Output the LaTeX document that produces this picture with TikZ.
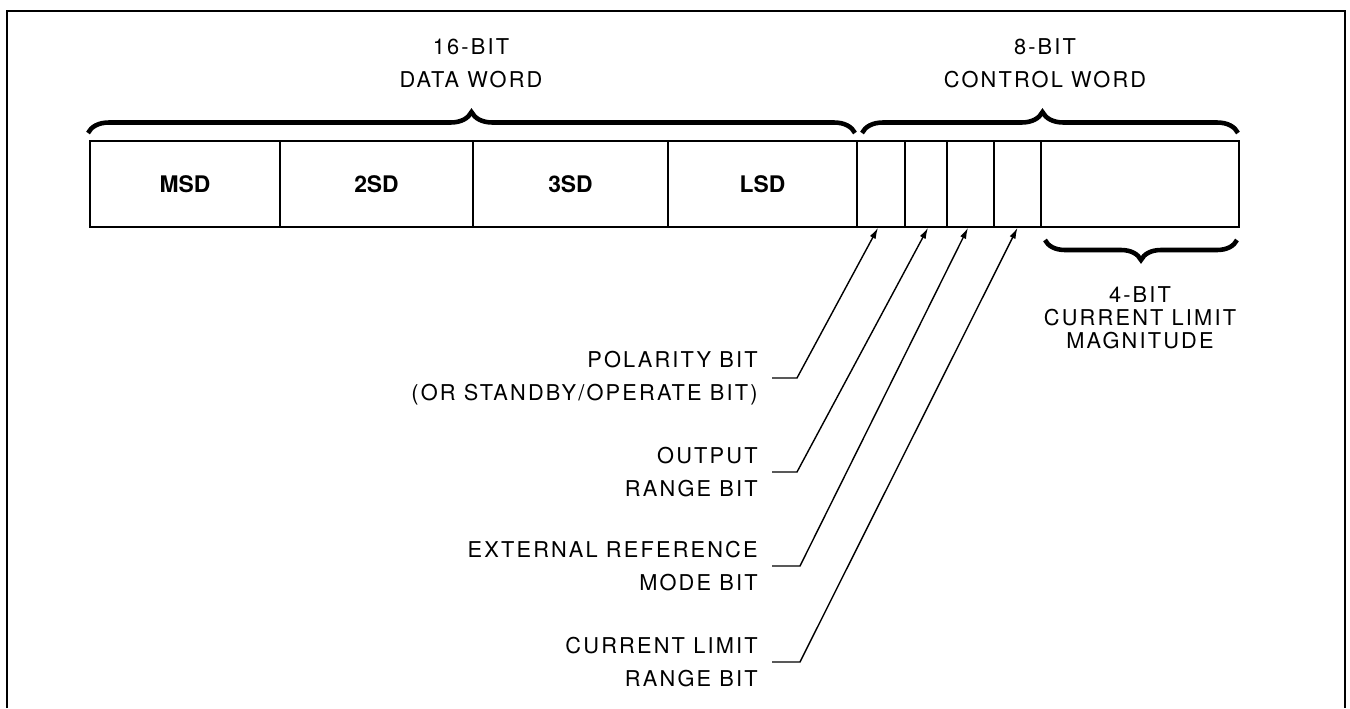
\documentclass[tikz,border=0pt]{standalone}
\usepackage{fontspec}
\setmainfont{TeX Gyre Heros}
\newfontfamily\lblfont{TeX Gyre Heros}[LetterSpace=10]
\usetikzlibrary{arrows.meta,positioning,decorations.pathreplacing}

\begin{document}
\begin{tikzpicture}[x=0.02cm,y=-0.02cm,
  cell/.style={draw, line width=0.9pt, minimum height=1.72cm, inner sep=0pt, font=\bfseries\fontsize{13}{15}\selectfont},
  lbl/.style={align=right, anchor=east, inner sep=0pt, font=\lblfont\fontsize{12.4}{18.7}\selectfont},
  hdr/.style={align=center, inner sep=0pt, font=\lblfont\fontsize{12.4}{18.7}\selectfont},
  brc/.style={decorate, decoration={brace, amplitude=0.42cm}, line width=2.6pt},
  arr/.style={-{Latex[length=2.2mm,width=1.3mm]}, line width=0.8pt}
]
\useasboundingbox (0,0) rectangle (1350,708);
% frame, open at the bottom
\draw[line width=0.8pt] (7,708) |- (1345,11) -- (1345,708);
% data word cells
\node[cell, minimum width=3.80cm] (msd) at (185,184)   {MSD};
\node[cell, minimum width=3.86cm] (sd2) at (376.5,184) {2SD};
\node[cell, minimum width=3.90cm] (sd3) at (570.5,184) {3SD};
\node[cell, minimum width=3.78cm] (lsd) at (762.5,184) {LSD};
% control word cells
\node[cell, minimum width=0.96cm] (pb)  at (881,184)    {};
\node[cell, minimum width=0.84cm] (ob)  at (926,184)    {};
\node[cell, minimum width=0.94cm] (eb)  at (970.5,184)  {};
\node[cell, minimum width=0.94cm] (cb)  at (1017.5,184) {};
\node[cell, minimum width=3.96cm] (mag) at (1140,184)   {};
% braces and their texts
\draw[brc] (88,133) -- (855,133);
\draw[brc, decoration={aspect=0.48}] (862,133) -- (1238,133);
\draw[brc, decoration={amplitude=0.4cm}] (1237,240) -- (1045,240);
\node[hdr] (dwtxt) at (471,63.5) {16-BIT\\DATA WORD};
\node[hdr] (cwtxt) at (1045,63) {8-BIT\\CONTROL WORD};
\node[hdr, font=\lblfont\fontsize{12.4}{13}\selectfont] (magtxt) at (1140,318) {4-BIT\\CURRENT LIMIT\\MAGNITUDE};
% bit labels
\node[lbl] (lpol) at (758,378) {POLARITY BIT\\(OR STANDBY/OPERATE BIT)};
\node[lbl] (lout) at (758,472) {OUTPUT\\RANGE BIT};
\node[lbl] (lext) at (758,566) {EXTERNAL REFERENCE\\MODE BIT};
\node[lbl] (lcur) at (758,662) {CURRENT LIMIT\\RANGE BIT};
\draw[arr] ([xshift=0.28cm]lpol.east) -- ++(0.5cm,0) -- ([xshift=-0.06cm]pb.south);
\draw[arr] ([xshift=0.28cm]lout.east) -- ++(0.5cm,0) -- ([xshift=0.04cm]ob.south);
\draw[arr] ([xshift=0.28cm]lext.east) -- ++(0.56cm,0) -- ([xshift=-0.05cm]eb.south);
\draw[arr] ([xshift=0.28cm]lcur.east) -- ++(0.56cm,0) -- (cb.south);
\end{tikzpicture}
\end{document}
